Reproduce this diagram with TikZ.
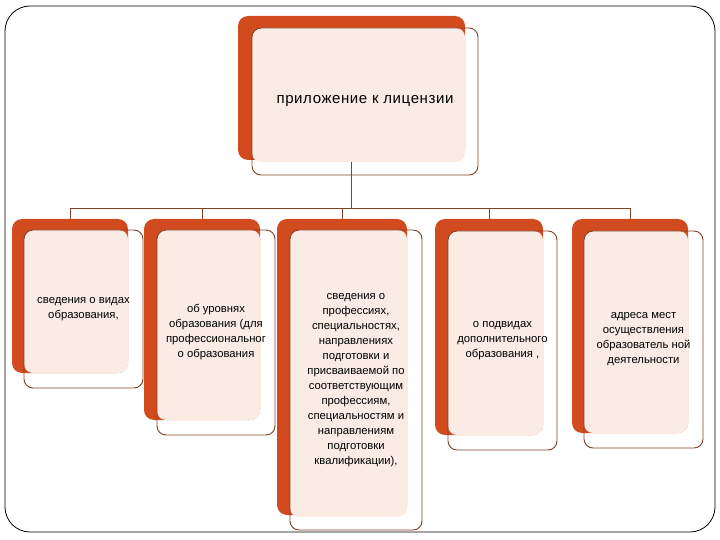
\documentclass[tikz,border=0pt]{standalone}
\usepackage{fontspec}
\setmainfont{Liberation Sans}
\newfontfamily\headfont{Liberation Sans}[LetterSpace=4]
\definecolor{rust}{RGB}{210,75,30}
\definecolor{blush}{RGB}{250,235,228}
\definecolor{umber}{RGB}{130,66,40}

\begin{document}
\begin{tikzpicture}[x=1pt, y=-1pt,
      every node/.style={inner sep=0pt, outer sep=0pt},
      back/.style={fill=rust, rounded corners=10pt},   % orange layer behind
      face/.style={fill=blush, rounded corners=9pt},
      rim/.style={draw=umber, line width=0.9pt, rounded corners=9pt,
        align=center, text=black, font=\fontsize{11.3}{15}\selectfont},
      link/.style={draw=umber, line width=0.8pt}
    ]
      \useasboundingbox (0,0) rectangle (720,540);
      \node[draw=black, line width=0.8pt, rounded corners=25pt,
        minimum width=710pt, minimum height=526pt] (frame) at (360,269) {};

      % connectors first, boxes cover them
      \coordinate (top) at (351.5,88);
      \foreach \cx/\n in {70/c1, 202/c2, 342/c3, 489/c4, 630/c5}{
        \coordinate (\n) at (\cx,219);
        \draw[link] (top) -- ++(0,120) -| (\n);
      }

      % head box
      \node[back, minimum width=227pt, minimum height=144pt] (topb) at (351.5,88) {};
      \node[face, minimum width=213pt, minimum height=134pt] (topf) at (358.5,95) {};
      \node[rim, minimum width=226pt, minimum height=147pt,
        font=\headfont\fontsize{15}{18}\selectfont] (topr) at (365,101.5)
        {приложение к лицензии};

      % children
      \node[back, minimum width=116pt, minimum height=154pt] (b1) at (70,296) {};
      \node[face, minimum width=104pt, minimum height=143pt] (f1) at (76,301.5) {};
      \node[rim, minimum width=119pt, minimum height=158pt] (r1) at (83.5,309)
        {сведения о видах\\образования,};

      \node[back, minimum width=116pt, minimum height=201pt] (b2) at (202,319.5) {};
      \node[face, minimum width=103pt, minimum height=190pt] (f2) at (208.5,325) {};
      \node[rim, minimum width=118pt, minimum height=205pt] (r2) at (216,332.5)
        {об уровнях\\образования (для\\профессиональног\\о образования};

      \node[back, minimum width=130pt, minimum height=296pt] (b3) at (342,367) {};
      \node[face, minimum width=117pt, minimum height=287pt] (f3) at (348.5,373.5) {};
      \node[rim, minimum width=132pt, minimum height=300pt] (r3) at (356,380)
        {сведения о\\профессиях,\\специальностях,\\направлениях\\подготовки и\\присваиваемой по\\соответствующим\\профессиям,\\специальностям и\\направлениям\\подготовки\\квалификации),};

      \node[back, minimum width=108pt, minimum height=216pt] (b4) at (489,327) {};
      \node[face, minimum width=95pt, minimum height=204pt] (f4) at (495.5,333) {};
      \node[rim, minimum width=109pt, minimum height=219pt] (r4) at (502.5,340.5)
        {о подвидах\\дополнительного\\образования ,};

      \node[back, minimum width=116pt, minimum height=214pt] (b5) at (630,326) {};
      \node[face, minimum width=104pt, minimum height=202pt] (f5) at (636,332) {};
      \node[rim, minimum width=119pt, minimum height=217pt] (r5) at (643.5,339.5)
        {адреса мест\\осуществления\\образователь ной\\деятельности};
    \end{tikzpicture}
\end{document}
